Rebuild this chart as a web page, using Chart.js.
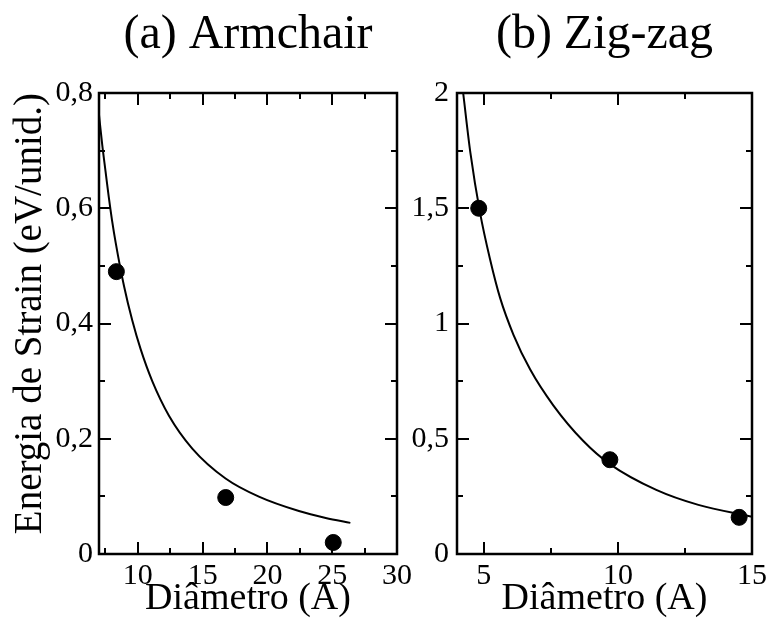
<!DOCTYPE html>
<html lang="pt">
<head>
<meta charset="UTF-8">
<title>Energia de Strain</title>
<script src="https://cdn.jsdelivr.net/npm/chart.js"></script>
<style>
  body { margin: 0; background: #fff; }
  .wrap { position: relative; width: 771px; height: 624px; }
  canvas { position: absolute; top: 0; }
  #armchair { left: 0; }
  #zigzag { left: 400px; }
</style>
</head>
<body>
<div class="wrap">
  <canvas id="armchair" width="420" height="624"></canvas>
  <canvas id="zigzag" width="371" height="624"></canvas>
</div>
<script>
// (a) Armchair
const armDiam = [8.34, 16.78, 25.08];
const armEnergy = [0.49, 0.098, 0.02];
const armFitX = [7.0, 7.25, 7.5, 7.75, 8.0, 8.29, 8.93, 9.57, 10.22, 11.11, 12.4, 14.2, 16.77, 19.34, 22.43, 24.5, 26.4];
const armFitY = [0.762, 0.71, 0.665, 0.62, 0.58, 0.54, 0.465, 0.405, 0.355, 0.300, 0.240, 0.183, 0.131, 0.0995, 0.0745, 0.0625, 0.054];
const armXTicks = [10, 15, 20, 25, 30];
const armXLabels = ['10', '15', '20', '25', '30'];
const armXMinor = [7.5, 12.5, 17.5, 22.5, 27.5];
const armYTicks = [0, 0.2, 0.4, 0.6, 0.8];
const armYLabels = ['0', '0,2', '0,4', '0,6', '0,8'];
const armYMinor = [0.1, 0.3, 0.5, 0.7];

// (b) Zig-zag
const zigDiam = [4.81, 9.70, 14.52];
const zigEnergy = [1.5, 0.409, 0.159];
const zigFitX = [4.23, 4.5, 4.86, 5.23, 5.61, 6.11, 6.73, 7.59, 8.71, 9.70, 11.43, 13.0, 15.0];
const zigFitY = [2.0, 1.74, 1.48, 1.28, 1.11, 0.95, 0.80, 0.645, 0.49, 0.39, 0.278, 0.213, 0.162];
const zigXTicks = [5, 10, 15];
const zigXLabels = ['5', '10', '15'];
const zigXMinor = [7.5, 12.5];
const zigYTicks = [0, 0.5, 1, 1.5, 2];
const zigYLabels = ['0', '0,5', '1', '1,5', '2'];
const zigYMinor = [0.25, 0.75, 1.25, 1.75];

const FONT = '"Liberation Serif", "Times New Roman", serif';

// box around the plot with inward ticks on all four sides
const framePlugin = {
  id: 'frame',
  afterDraw(chart, args, opts) {
    const { ctx, chartArea: a, scales: { x, y } } = chart;
    ctx.save();
    ctx.strokeStyle = '#000';
    ctx.lineWidth = 2;
    ctx.beginPath();
    const xMark = (vals, len) => vals.forEach(v => {
      const p = Math.round(x.getPixelForValue(v));
      ctx.moveTo(p, a.bottom); ctx.lineTo(p, a.bottom - len);
      ctx.moveTo(p, a.top); ctx.lineTo(p, a.top + len);
    });
    const yMark = (vals, len) => vals.forEach(v => {
      const p = Math.round(y.getPixelForValue(v));
      ctx.moveTo(a.left, p); ctx.lineTo(a.left + len, p);
      ctx.moveTo(a.right, p); ctx.lineTo(a.right - len, p);
    });
    xMark(opts.xMajor, 12);
    xMark(opts.xMinor, 6);
    yMark(opts.yMajor, 12);
    yMark(opts.yMinor, 6);
    ctx.stroke();
    ctx.lineWidth = 2.5;
    ctx.strokeRect(a.left, a.top, a.right - a.left, a.bottom - a.top);
    ctx.restore();
  }
};

function toPoints(xs, ys) {
  return xs.map((v, i) => ({ x: v, y: ys[i] }));
}

function makePanel(id, cfg) {
  const tickFont = { family: FONT, size: 30 };
  new Chart(document.getElementById(id), {
    type: 'scatter',
    data: {
      datasets: [
        {
          data: toPoints(cfg.diam, cfg.energy),
          pointRadius: 8,
          pointBackgroundColor: '#000',
          pointBorderColor: '#000',
          showLine: false
        },
        {
          data: toPoints(cfg.fitX, cfg.fitY),
          showLine: true,
          borderColor: '#000',
          borderWidth: 2,
          pointRadius: 0,
          cubicInterpolationMode: 'monotone',
          fill: false
        }
      ]
    },
    options: {
      responsive: false,
      animation: false,
      events: [],
      layout: { padding: { left: 0, right: cfg.padRight, top: 0, bottom: 0 } },
      plugins: {
        legend: { display: false },
        tooltip: { enabled: false },
        title: {
          display: true,
          text: cfg.title,
          color: '#000',
          fullSize: false,
          font: { family: FONT, size: 48, weight: 'normal', lineHeight: 1 },
          padding: { top: 11, bottom: 34 }
        },
        frame: { xMajor: cfg.xTicks, xMinor: cfg.xMinor, yMajor: cfg.yTicks, yMinor: cfg.yMinor }
      },
      scales: {
        x: {
          type: 'linear',
          min: cfg.xMin,
          max: cfg.xMax,
          grid: { display: false, drawTicks: false },
          border: { display: false },
          afterBuildTicks: s => { s.ticks = cfg.xTicks.map(v => ({ value: v })); },
          afterFit: s => { s.height = 70; },
          ticks: {
            color: '#000',
            font: tickFont,
            padding: 4,
            maxRotation: 0,
            autoSkip: false,
            callback: v => cfg.xLabels[cfg.xTicks.indexOf(v)]
          },
          title: {
            display: true,
            text: 'Diâmetro (A)',
            color: '#000',
            font: { family: FONT, size: 38, lineHeight: 1.2 },
            padding: { top: 0, bottom: 2 }
          }
        },
        y: {
          type: 'linear',
          min: cfg.yMin,
          max: cfg.yMax,
          grid: { display: false, drawTicks: false },
          border: { display: false },
          afterBuildTicks: s => { s.ticks = cfg.yTicks.map(v => ({ value: v })); },
          afterFit: s => { s.width = cfg.yWidth; },
          ticks: {
            color: '#000',
            font: tickFont,
            padding: cfg.yPad,
            autoSkip: false,
            callback: v => cfg.yLabels[cfg.yTicks.indexOf(v)]
          },
          title: {
            display: !!cfg.yTitle,
            text: cfg.yTitle || '',
            color: '#000',
            align: 'end',
            font: { family: FONT, size: 39, lineHeight: 1.2 },
            padding: { top: 7, bottom: 0 }
          }
        }
      }
    },
    plugins: [framePlugin]
  });
}

makePanel('armchair', {
  title: '(a) Armchair',
  yTitle: 'Energia de Strain (eV/unid.)',
  diam: armDiam, energy: armEnergy, fitX: armFitX, fitY: armFitY,
  xMin: 7, xMax: 30, yMin: 0, yMax: 0.8,
  xTicks: armXTicks, xLabels: armXLabels, xMinor: armXMinor,
  yTicks: armYTicks, yLabels: armYLabels, yMinor: armYMinor,
  yWidth: 99, yPad: 6, padRight: 23
});

makePanel('zigzag', {
  title: '(b) Zig-zag',
  diam: zigDiam, energy: zigEnergy, fitX: zigFitX, fitY: zigFitY,
  xMin: 4, xMax: 15, yMin: 0, yMax: 2,
  xTicks: zigXTicks, xLabels: zigXLabels, xMinor: zigXMinor,
  yTicks: zigYTicks, yLabels: zigYLabels, yMinor: zigYMinor,
  yWidth: 57, yPad: 8, padRight: 18
});
</script>
</body>
</html>
